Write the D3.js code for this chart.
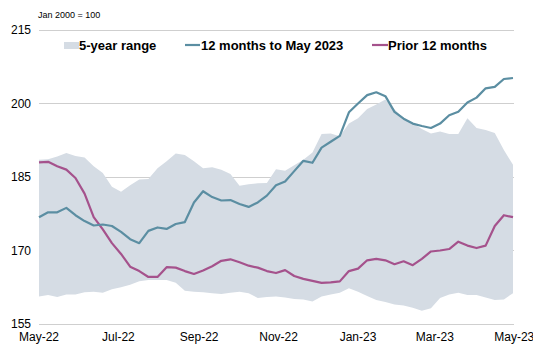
<!DOCTYPE html>
<html><head><meta charset="utf-8">
<script src="https://cdn.jsdelivr.net/npm/d3@7"></script>
<style>body{margin:0;background:#fff}svg{display:block;font-family:"Liberation Sans",Arial,sans-serif}</style>
</head><body><svg id="c" width="533" height="348"></svg>
<script>
const startDate = "2022-05-01";
const weeks = 53;
const rangeHigh = [188.5,188.6,189.2,189.9,189.3,189.0,187.2,185.8,183.0,182.0,183.3,184.5,184.6,186.8,188.2,189.8,189.5,188.2,186.8,187.0,186.5,185.6,183.2,183.5,183.7,183.8,186.6,186.3,187.4,188.5,190.0,193.8,193.9,193.3,195.9,197.0,198.9,199.8,200.8,198.8,197.0,196.0,194.8,193.9,194.3,193.8,193.8,197.0,195.0,194.6,194.0,190.5,187.5];
const rangeLow = [160.6,160.9,160.5,161.0,161.0,161.5,161.6,161.4,162.1,162.5,163.0,163.7,164.0,164.0,164.0,163.4,161.8,161.6,161.5,161.3,161.1,161.4,161.6,161.3,160.3,160.5,160.6,160.4,160.1,160.0,159.6,160.6,161.0,161.4,162.3,161.6,160.7,159.9,159.5,159.0,158.8,158.3,157.7,158.2,160.3,161.0,161.4,160.9,160.9,160.4,159.9,160.0,161.3];
const current = [176.8,177.8,177.8,178.7,177.2,176.0,175.1,175.3,175.0,173.8,172.3,171.5,174.0,174.7,174.4,175.4,175.8,179.8,182.1,180.9,180.2,180.3,179.5,178.9,179.8,181.2,183.3,184.1,186.2,188.3,187.9,191.0,192.2,193.4,198.2,200.0,201.7,202.3,201.5,198.3,196.9,195.9,195.4,195.0,195.9,197.6,198.3,200.2,201.2,203.1,203.4,205.0,205.2];
const prior = [188.0,188.1,187.2,186.5,184.8,181.6,176.8,174.3,171.5,169.3,166.7,165.8,164.6,164.6,166.6,166.5,165.8,165.2,165.9,166.8,167.9,168.2,167.6,166.9,166.5,165.8,165.4,166.0,164.8,164.2,163.8,163.4,163.5,163.7,165.8,166.3,168.0,168.3,168.0,167.2,167.8,167.0,168.3,169.8,170.0,170.3,171.8,171.0,170.5,171.0,175.0,177.2,176.8];
const yTicks = [155,170,185,200,215];
const xTickLabels = ["May-22","Jul-22","Sep-22","Nov-22","Jan-23","Mar-23","May-23"];
const xTickDates = ["2022-05-01","2022-07-01","2022-09-01","2022-11-01","2023-01-01","2023-03-01","2023-05-01"];
const seriesNames = ["5-year range","12 months to May 2023","Prior 12 months"];
const colors = {range:"#d5dce4", current:"#5b8ea2", prior:"#a5528c", grid:"#cfcfcf"};

const parse = d3.utcParse("%Y-%m-%d");
const t0 = parse(startDate);
const dates = d3.range(weeks).map(i => d3.utcDay.offset(t0, i*7));
const svg = d3.select("#c");
const x = d3.scaleUtc().domain([parse("2022-05-01"), parse("2023-04-30")]).range([39, 513]);
const y = d3.scaleLinear().domain([155,215]).range([324,30]);

svg.append("g").selectAll("line").data(yTicks).join("line")
  .attr("x1",39).attr("x2",514).attr("y1",d=>y(d)).attr("y2",d=>y(d))
  .attr("stroke",colors.grid).attr("stroke-width",1).attr("shape-rendering","crispEdges");
svg.append("g").selectAll("text").data(yTicks).join("text")
  .attr("x",31).attr("y",d=>y(d)).attr("dy","0.35em").attr("text-anchor","end")
  .attr("font-size",12).attr("fill","#000").text(d=>d);
svg.append("text").attr("x",38).attr("y",18).attr("font-size",9).attr("fill","#000").text("Jan 2000 = 100");

const area = d3.area().x((d,i)=>x(dates[i])).y0((d,i)=>y(rangeLow[i])).y1((d,i)=>y(rangeHigh[i]));
svg.append("path").datum(rangeHigh).attr("d",area).attr("fill",colors.range);

const line = arr => d3.line().x((d,i)=>x(dates[i])).y(d=>y(d))(arr);
svg.append("path").attr("d",line(prior)).attr("fill","none").attr("stroke",colors.prior).attr("stroke-width",2.2).attr("stroke-linejoin","round");
svg.append("path").attr("d",line(current)).attr("fill","none").attr("stroke",colors.current).attr("stroke-width",2.2).attr("stroke-linejoin","round");

svg.append("g").selectAll("text").data(xTickLabels).join("text")
  .attr("x",(d,i)=>x(parse(xTickDates[i]))).attr("y",341).attr("text-anchor","middle")
  .attr("font-size",12).attr("fill","#000").text(d=>d);

const lg = svg.append("g").attr("font-size",13).attr("font-weight","bold");
lg.append("rect").attr("x",64).attr("y",42).attr("width",15).attr("height",7).attr("fill",colors.range);
lg.append("text").attr("x",79).attr("y",50).text(seriesNames[0]);
lg.append("line").attr("x1",185).attr("x2",200).attr("y1",45).attr("y2",45).attr("stroke",colors.current).attr("stroke-width",2.2);
lg.append("text").attr("x",201).attr("y",50).text(seriesNames[1]);
lg.append("line").attr("x1",372).attr("x2",388).attr("y1",45).attr("y2",45).attr("stroke",colors.prior).attr("stroke-width",2.2);
lg.append("text").attr("x",388).attr("y",50).text(seriesNames[2]);
</script></body></html>
